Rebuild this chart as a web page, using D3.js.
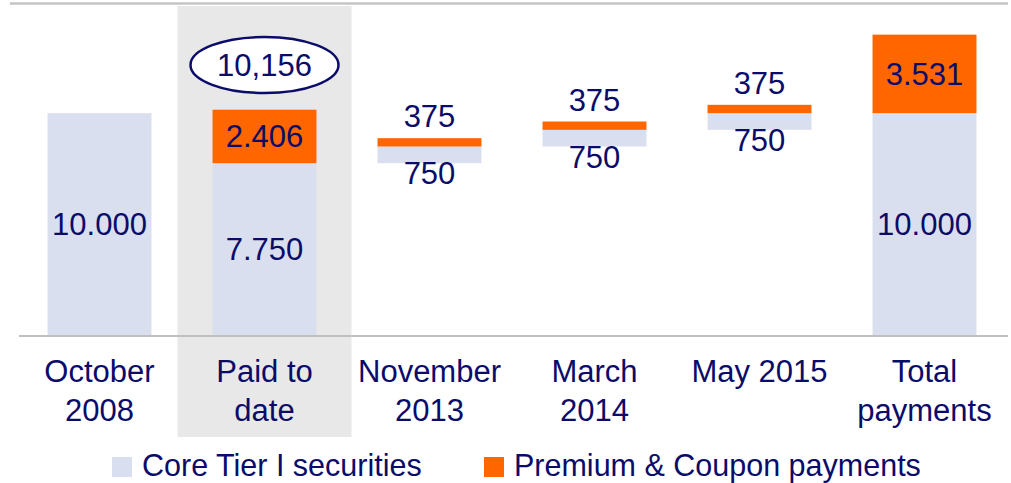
<!DOCTYPE html>
<html>
<head>
<meta charset="utf-8">
<script src="https://cdn.jsdelivr.net/npm/d3@7"></script>
<style>
  body { margin: 0; background: #fff; }
  text { font-family: "Liberation Sans", Arial, sans-serif; fill: #0b0b6a; }
</style>
</head>
<body>
<div id="vis"></div>
<script>
    // data
    var categories = ["October 2008", "Paid to date", "November 2013", "March 2014", "May 2015", "Total payments"];
    var catLines = [["October", "2008"], ["Paid to", "date"], ["November", "2013"], ["March", "2014"], ["May 2015"], ["Total", "payments"]];
    var coreBase = [0, 0, 7750, 8500, 9250, 0];
    var coreValues = [10000, 7750, 750, 750, 750, 10000];
    var premiumValues = [0, 2406, 375, 375, 375, 3531];
    var highlighted = "Paid to date";
    var legendLabels = ["Core Tier I securities", "Premium & Coupon payments"];

    var W = 1011, H = 483;
    var coreColor = "#d9dfee", premColor = "#ff6600", navy = "#0b0b6a";

    var svg = d3.select("#vis").append("svg").attr("width", W).attr("height", H);

    var x = d3.scaleBand().domain(categories).range([17, 1007]).paddingInner(0.37).paddingOuter(0.185);
    var y = d3.scaleLinear().domain([0, 15000]).range([335.5, 2]);

    var eu = d3.formatLocale({decimal: ",", thousands: ".", grouping: [3], currency: ["", ""]}).format(",");
    var us = d3.format(",");

    // highlighted column
    var hc = x(highlighted) + x.bandwidth() / 2;
    svg.append("rect").attr("x", hc - 87).attr("y", 6).attr("width", 174).attr("height", 431).attr("fill", "#e8e8e8");

    // top rule
    svg.append("line").attr("x1", 10).attr("x2", 1008).attr("y1", 3.5).attr("y2", 3.5)
        .attr("stroke", "#c4c4c4").attr("stroke-width", 2.5);

    var rows = categories.map(function (c, i) {
        return {cat: c, base: coreBase[i], core: coreValues[i], prem: premiumValues[i], lines: catLines[i]};
    });

    var g = svg.selectAll(".col").data(rows).enter().append("g");

    g.append("rect")
        .attr("x", function (d) { return x(d.cat); })
        .attr("width", x.bandwidth())
        .attr("y", function (d) { return y(d.base + d.core); })
        .attr("height", function (d) { return y(d.base) - y(d.base + d.core); })
        .attr("fill", coreColor);

    g.filter(function (d) { return d.prem > 0; }).append("rect")
        .attr("x", function (d) { return x(d.cat); })
        .attr("width", x.bandwidth())
        .attr("y", function (d) { return y(d.base + d.core + d.prem); })
        .attr("height", function (d) { return y(d.base + d.core) - y(d.base + d.core + d.prem); })
        .attr("fill", premColor);

    // axis line
    svg.append("line").attr("x1", 19).attr("x2", 1008).attr("y1", y(0) + 0.5).attr("y2", y(0) + 0.5)
        .attr("stroke", "#c0c0c0").attr("stroke-width", 2);

    var fs = 31;
    // value labels
    g.each(function (d) {
        var el = d3.select(this), cx = x(d.cat) + x.bandwidth() / 2;
        var y0 = y(d.base), y1 = y(d.base + d.core), y2 = y(d.base + d.core + d.prem);
        var small = (y0 - y1) < 30;
        el.append("text").attr("x", cx).attr("text-anchor", "middle").attr("font-size", fs)
            .attr("y", small ? y0 + 21 : (y0 + y1) / 2 + 11)
            .text(eu(d.core));
        if (d.prem > 0) {
            el.append("text").attr("x", cx).attr("text-anchor", "middle").attr("font-size", fs)
                .attr("y", small ? y2 - 11 : (y1 + y2) / 2 + 11)
                .text(eu(d.prem));
        }
        // category labels
        d.lines.forEach(function (l, k) {
            el.append("text").attr("x", cx).attr("y", 382 + k * 39).attr("text-anchor", "middle")
                .attr("font-size", fs).text(l);
        });
    });

    // paid-to-date total in an oval
    var hr = rows[categories.indexOf(highlighted)];
    svg.append("ellipse").attr("cx", hc).attr("cy", 65).attr("rx", 74).attr("ry", 28)
        .attr("fill", "#fff").attr("stroke", navy).attr("stroke-width", 2.5);
    svg.append("text").attr("x", hc).attr("y", 76).attr("text-anchor", "middle").attr("font-size", fs)
        .text(us(hr.core + hr.prem));

    // legend
    var leg = svg.append("g");
    var lx = [112, 484];
    legendLabels.forEach(function (l, i) {
        leg.append("rect").attr("x", lx[i]).attr("y", 457).attr("width", 20).attr("height", 20)
            .attr("fill", i === 0 ? coreColor : premColor);
        leg.append("text").attr("x", lx[i] + 30).attr("y", 476).attr("font-size", 30.5).text(l);
    });
</script>
</body>
</html>
